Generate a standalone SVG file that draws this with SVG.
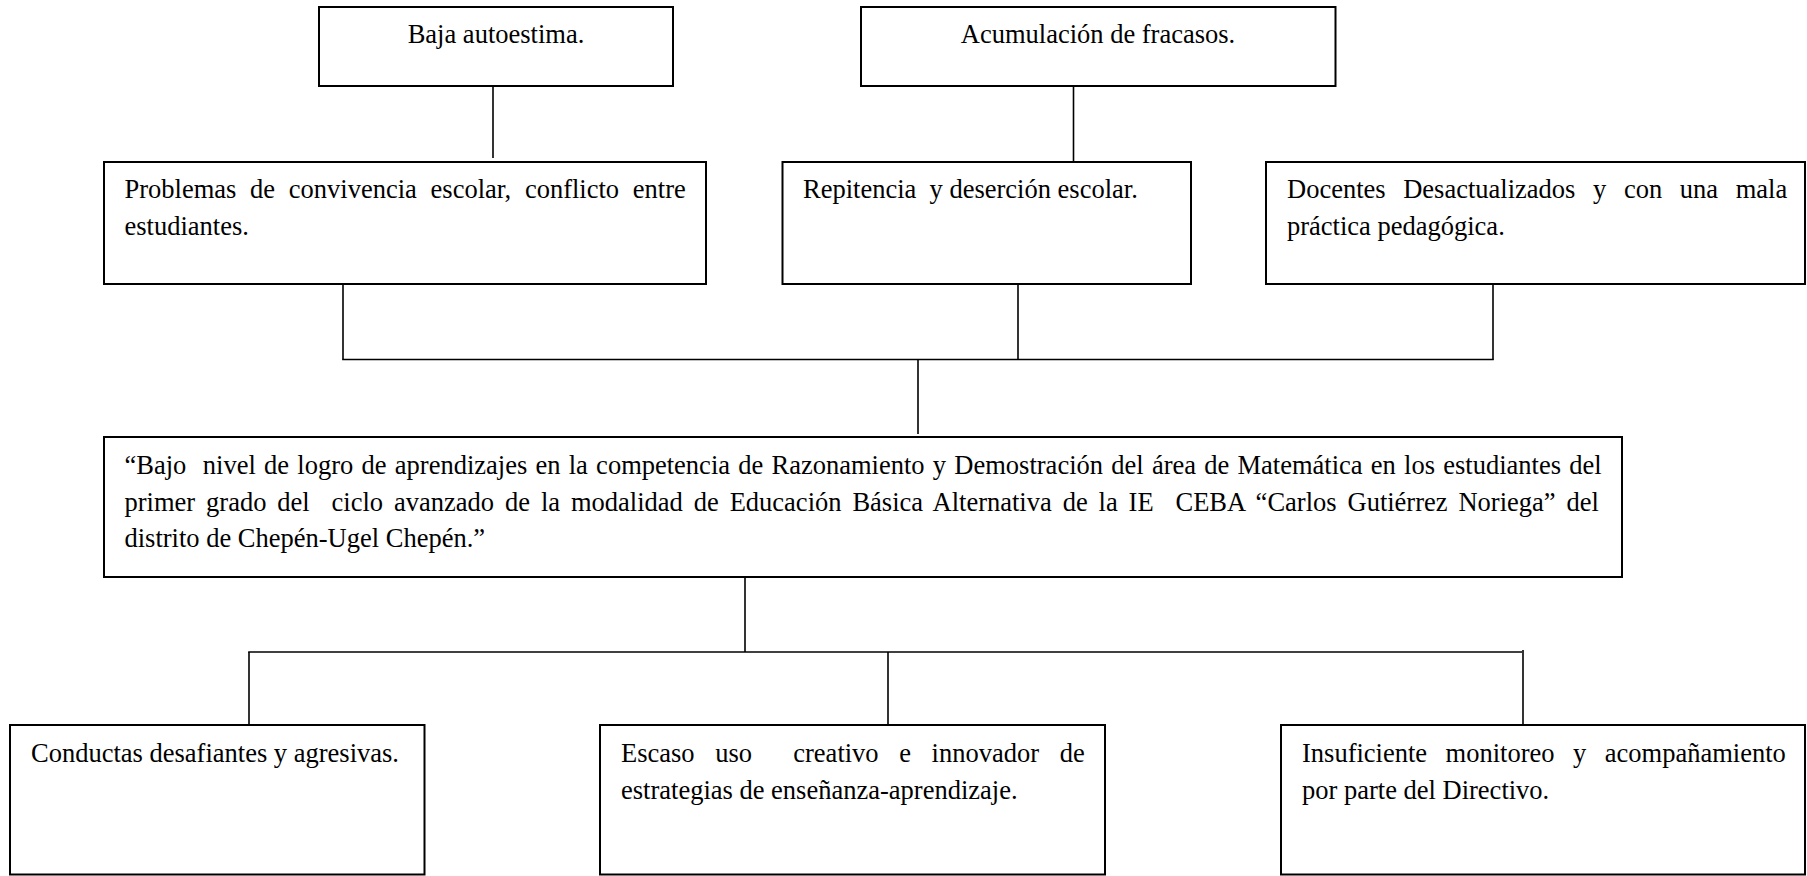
<svg xmlns="http://www.w3.org/2000/svg" width="1807" height="876" viewBox="0 0 1807 876">
<style>
.box{fill:#fff;stroke:#000;stroke-width:2}
.t{font-family:"Liberation Serif","Times New Roman",serif;font-size:26.5px;fill:#000}
.c{text-anchor:middle}
#connectors line{stroke:#000;stroke-width:1.6}
</style>
<rect width="1807" height="876" fill="#fff"/>
<g id="connectors">
<line x1="493" y1="86" x2="493" y2="158"/>
<line x1="1073.5" y1="86" x2="1073.5" y2="162"/>
<line x1="343" y1="284" x2="343" y2="359.5"/>
<line x1="1018" y1="284" x2="1018" y2="359.5"/>
<line x1="1493" y1="284" x2="1493" y2="359.5"/>
<line x1="342.2" y1="359.5" x2="1493.8" y2="359.5"/>
<line x1="918" y1="359.5" x2="918" y2="434"/>
<line x1="745" y1="577" x2="745" y2="652"/>
<line x1="248.2" y1="652" x2="1522" y2="652"/>
<line x1="249" y1="652" x2="249" y2="726"/>
<line x1="888" y1="652" x2="888" y2="725"/>
<line x1="1523" y1="650" x2="1523" y2="725"/>
</g>
<g id="n-baja">
<rect class="box" x="319" y="7" width="354" height="79"/>
<text class="t c" x="496" y="43">Baja autoestima.</text>
</g>
<g id="n-acumulacion">
<rect class="box" x="861" y="7" width="474.5" height="79"/>
<text class="t c" x="1098" y="43">Acumulación de fracasos.</text>
</g>
<g id="n-problemas">
<rect class="box" x="104" y="162" width="602" height="122"/>
<text class="t" x="124.5" y="198" style="word-spacing:7.1px">Problemas de convivencia escolar, conflicto entre</text>
<text class="t" x="124.5" y="234.5">estudiantes.</text>
</g>
<g id="n-repitencia">
<rect class="box" x="782.5" y="162" width="408.5" height="122"/>
<text class="t" x="803" y="198" xml:space="preserve">Repitencia  y deserción escolar.</text>
</g>
<g id="n-docentes">
<rect class="box" x="1266" y="162" width="539" height="122"/>
<text class="t" x="1287" y="198" style="word-spacing:11px">Docentes Desactualizados y con una mala</text>
<text class="t" x="1287" y="234.5">práctica pedagógica.</text>
</g>
<g id="n-central">
<rect class="box" x="104" y="437" width="1518" height="140"/>
<text class="t" x="124.5" y="474" xml:space="preserve" style="word-spacing:1.63px">“Bajo  nivel de logro de aprendizajes en la competencia de Razonamiento y Demostración del área de Matemática en los estudiantes del</text>
<text class="t" x="124.5" y="510.5" xml:space="preserve" style="word-spacing:4.3px">primer grado del  ciclo avanzado de la modalidad de Educación Básica Alternativa de la IE  CEBA “Carlos Gutiérrez Noriega” del</text>
<text class="t" x="124.5" y="547">distrito de Chepén-Ugel Chepén.”</text>
</g>
<g id="n-conductas">
<rect class="box" x="10" y="725" width="414.5" height="149.5"/>
<text class="t" x="31" y="762">Conductas desafiantes y agresivas.</text>
</g>
<g id="n-escaso">
<rect class="box" x="600" y="725" width="505" height="149.5"/>
<text class="t" x="621" y="762" xml:space="preserve" style="word-spacing:14px">Escaso uso  creativo e innovador de</text>
<text class="t" x="621" y="798.5">estrategias de enseñanza-aprendizaje.</text>
</g>
<g id="n-insuficiente">
<rect class="box" x="1281" y="725" width="524" height="149.5"/>
<text class="t" x="1302" y="762" style="word-spacing:11.9px">Insuficiente monitoreo y acompañamiento</text>
<text class="t" x="1302" y="798.5">por parte del Directivo.</text>
</g>
</svg>
